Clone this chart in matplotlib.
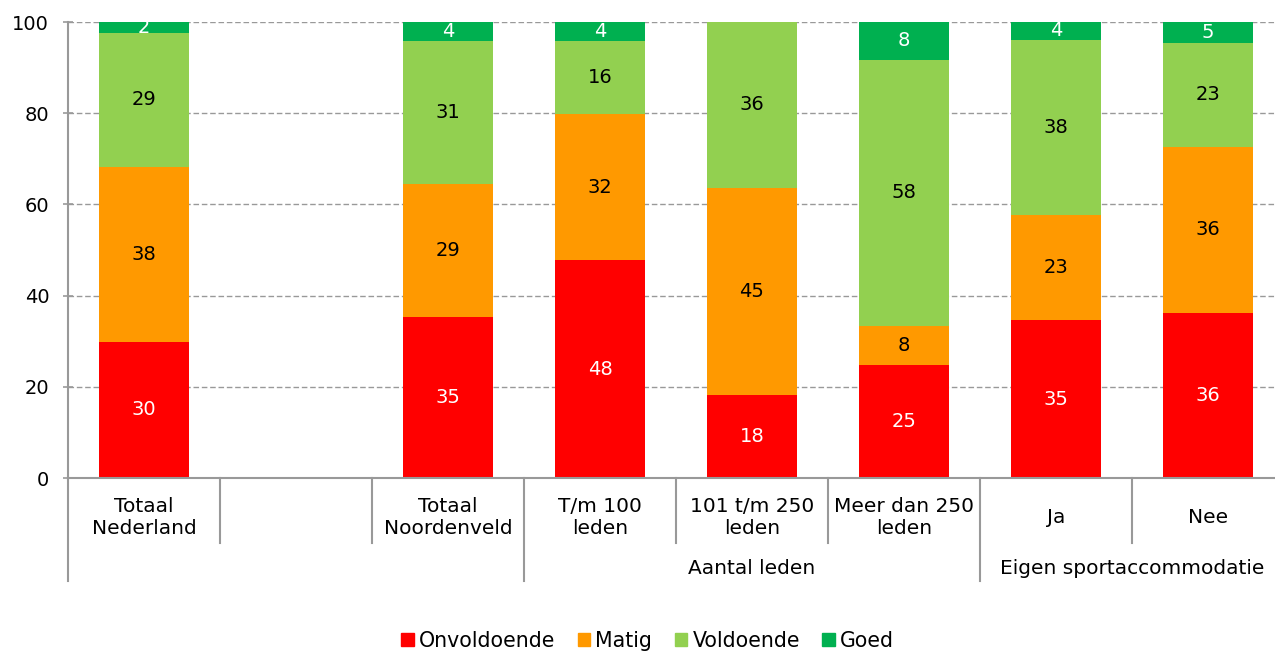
import matplotlib.pyplot as plt
from matplotlib.patches import Patch

plt.rcParams['font.family'] = ['DejaVu Sans']

categories = ["Totaal\nNederland", "", "Totaal\nNoordenveld", "T/m 100\nleden",
              "101 t/m 250\nleden", "Meer dan 250\nleden", "Ja", "Nee"]
groups = [("Aantal leden", 3, 5), ("Eigen sportaccommodatie", 6, 7)]

series = ["Onvoldoende", "Matig", "Voldoende", "Goed"]
colors = ["#FF0000", "#FF9900", "#92D050", "#00B050"]
text_colors = ["white", "black", "black", "white"]

onvoldoende = [29.9, None, 35.3, 47.8, 18.2, 24.8, 34.6, 36.2]
matig = [38.3, None, 29.2, 32.0, 45.4, 8.5, 23.1, 36.4]
voldoende = [29.4, None, 31.3, 16.0, 36.4, 58.4, 38.4, 22.8]
goed = [2.4, None, 4.2, 4.2, 0.0, 8.3, 3.9, 4.6]
values = [onvoldoende, matig, voldoende, goed]

fig = plt.figure(figsize=(12.75, 6.53), dpi=100)
ax = fig.add_axes([68 / 1275, 1 - 478 / 653, 1216 / 1275, 456 / 653])

bottoms = [0.0] * len(categories)
for vals, name, col, tcol in zip(values, series, colors, text_colors):
    for i, v in enumerate(vals):
        if v is None:
            continue
        ax.bar(i, v, bottom=bottoms[i], width=0.59, color=col, zorder=2)
        if v > 0:
            ax.text(i, bottoms[i] + v / 2, f"{v:.0f}", ha='center', va='center',
                    color=tcol, fontsize=14, zorder=3)
        bottoms[i] += v

ax.set_xlim(-0.5, len(categories) - 0.5)
ax.set_ylim(0, 100)
ax.set_yticks(range(0, 101, 20))
ax.tick_params(axis='y', labelsize=14, color='#999999', length=7, width=1.2,
               direction='inout', pad=10)
ax.yaxis.grid(True, linestyle=(0, (4, 2)), color='#999999', linewidth=1, zorder=0)
for s in ['top', 'right']:
    ax.spines[s].set_visible(False)
for s in ['left', 'bottom']:
    ax.spines[s].set_color('#999999')
    ax.spines[s].set_linewidth(1.5)

ax.set_xticks([])
trans = ax.get_xaxis_transform()
for i, lab in enumerate(categories):
    ax.text(i, -0.086, lab, transform=trans, ha='center', va='center',
            fontsize=14.5, linespacing=1.2)

# separators below the axis: long ones between groups, short ones between bars
long_lines = [-0.5, 2.5, 5.5]
for b in [k - 0.5 for k in range(len(categories))]:
    ymin = -0.225 if b in long_lines else -0.143
    ax.plot([b, b], [0, ymin], transform=trans, color='#999999', lw=1.5,
            clip_on=False)
for name, a, b in groups:
    ax.text((a + b) / 2, -0.198, name, transform=trans, ha='center',
            va='center', fontsize=14.5)

handles = [Patch(color=c, label=n) for n, c in zip(series, colors)]
fig.legend(handles=handles, loc='center', bbox_to_anchor=(0.508, 1 - 641 / 653),
           ncol=4, frameon=False, fontsize=14.8, handlelength=0.6,
           handleheight=0.6, handletextpad=0.25, columnspacing=1.1)

fig.savefig("out.png", dpi=100)
